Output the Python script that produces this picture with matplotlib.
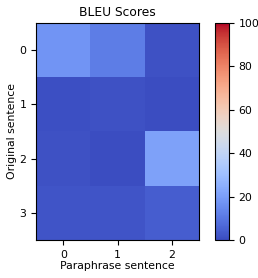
import numpy as np
import matplotlib
matplotlib.use("Agg")
from matplotlib import pyplot as plt

rows = [0, 1, 2, 3]
cols = [0, 1, 2]
bleu = np.array([
    [17.5, 11.5, 1.5],
    [1.0, 1.2, 0.5],
    [1.3, 0.6, 21.0],
    [2.0, 2.0, 4.0],
])

plt.rcParams["font.size"] = 7.8
fig = plt.figure(figsize=(2.58, 2.78), dpi=100)
ax = fig.add_axes([0.14, 0.137, 0.631, 0.78])
cax = fig.add_axes([0.833, 0.137, 0.054, 0.78])

im = ax.imshow(bleu, cmap="coolwarm", vmin=0, vmax=100, aspect="auto")
ax.set_xticks(cols)
ax.set_yticks(rows)
ax.set_title("BLEU Scores", fontsize=8.8, pad=5)
ax.set_xlabel("Paraphrase sentence", labelpad=1)
ax.set_ylabel("Original sentence", labelpad=2)
fig.colorbar(im, cax=cax)

fig.savefig("out.png", dpi=100)
